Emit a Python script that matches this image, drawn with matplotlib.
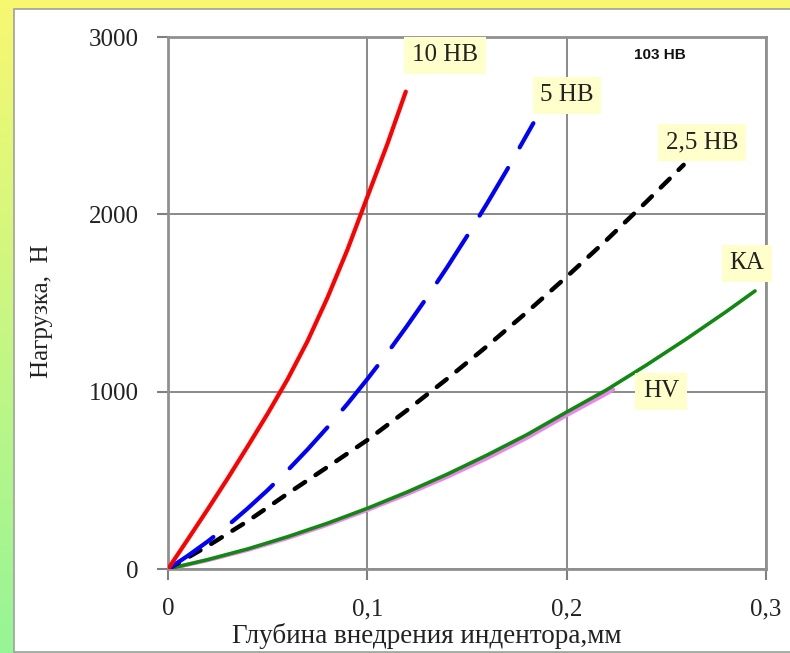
import numpy as np
import matplotlib
matplotlib.use("Agg")
import matplotlib.pyplot as plt
from matplotlib.patches import Rectangle

plt.rcParams['lines.scale_dashes'] = False

# ---- data ----
x_10hb = [0, 0.01, 0.02, 0.03, 0.04, 0.05, 0.06, 0.07, 0.08, 0.09, 0.1, 0.11, 0.1193]
y_10hb = [0, 168, 338, 512, 692, 876, 1070, 1285, 1530, 1800, 2098, 2395, 2692]

x_5hb = [0, 0.01, 0.02, 0.03, 0.04, 0.05, 0.06, 0.07, 0.08, 0.09, 0.1, 0.11, 0.12,
         0.13, 0.14, 0.15, 0.16, 0.17, 0.1833]
y_5hb = [0, 75, 156, 245, 342, 445, 556, 674, 799, 931, 1071, 1217, 1372,
         1533, 1701, 1877, 2060, 2250, 2514]

x_25hb = [0, 0.02, 0.04, 0.06, 0.08, 0.1, 0.12, 0.14, 0.16, 0.18, 0.2, 0.22, 0.24, 0.2587]
y_25hb = [0, 130, 270, 425, 575, 727, 896, 1072, 1256, 1448, 1648, 1855, 2071, 2279]

x_ka = [0, 0.02, 0.04, 0.06, 0.08, 0.1, 0.12, 0.14, 0.16, 0.18, 0.2, 0.22, 0.24, 0.26, 0.28, 0.2945]
y_ka = [0, 53, 113, 182, 258, 342, 434, 534, 642, 757, 885, 1010, 1150, 1297, 1451, 1568]

x_hv = [0, 0.02, 0.04, 0.06, 0.08, 0.1, 0.12, 0.14, 0.16, 0.18, 0.2, 0.22, 0.2233]
y_hv = [0, 50, 108, 175, 250, 333, 423, 520, 625, 740, 868, 990, 1012]

xticks = [0, 0.1, 0.2, 0.3]
xtick_labels = ["0", "0,1", "0,2", "0,3"]
yticks = [0, 1000, 2000, 3000]
ytick_labels = ["0", "1000", "2000", "3000"]

W, H = 790, 653
fig = plt.figure(figsize=(W / 100, H / 100), dpi=100)

# background gradient (yellow top -> green bottom)
bg = fig.add_axes([0, 0, 1, 1], zorder=-10)
grad = np.linspace(0, 1, 256)[:, None]
top = np.array([248, 248, 112]) / 255
bot = np.array([150, 245, 150]) / 255
img = top[None, None, :] * (1 - grad[:, :, None]) + bot[None, None, :] * grad[:, :, None]
bg.imshow(img, aspect='auto', extent=[0, 1, 0, 1])
bg.set_xlim(0, 1); bg.set_ylim(0, 1)
bg.axis('off')
# white panel with gray border
bg.add_patch(Rectangle((14 / W, 1 / H), 1.0, 1 - 10 / H, facecolor='white',
                       edgecolor='#a0a0a0', linewidth=1.2))

ax = fig.add_axes([168 / W, (H - 569) / H, (766 - 168) / W, (569 - 37) / H])
ax.set_facecolor('white')

serif = ['Liberation Serif', 'DejaVu Serif']

ax.plot(x_hv, y_hv, color='#ee82ee', lw=3.0, solid_capstyle='round', zorder=3)
ax.plot(x_ka, y_ka, color='#118811', lw=2.6, solid_capstyle='round', zorder=4)
ax.plot(x_25hb, y_25hb, color='black', lw=3.2, dash_capstyle='round',
        dashes=(9, 9), zorder=5)
ax.plot(x_5hb, y_5hb, color='#0000ff', lw=3.0, dash_capstyle='round',
        dashes=(40, 17), zorder=5)
ax.plot(x_10hb, y_10hb, color='#ff0000', lw=3.0, solid_capstyle='round',
        solid_joinstyle='round', zorder=6)

ax.set_xlim(0, 0.3)
ax.set_ylim(0, 3000)
ax.set_xticks(xticks)
ax.set_xticklabels(xtick_labels, fontfamily=serif, fontsize=18, color='#222222')
ax.set_yticks(yticks)
ax.set_yticklabels(ytick_labels, fontfamily=serif, fontsize=18, color='#222222')
ax.tick_params(axis='both', length=8, width=1.5, color='#808080', pad=13)
ax.grid(True, color='#808080', linewidth=1.3)
ax.set_axisbelow(True)
for s in ax.spines.values():
    s.set_color('#909090')
    s.set_linewidth(2)

fig.text(427 / W, 1 - 636 / H, "Глубина внедрения индентора,мм", fontfamily=serif,
         fontsize=19.5, color='#222222', ha='center', va='center')
fig.text(42 / W, 1 - 311 / H, "Нагрузка,  Н", fontfamily=serif, fontsize=18,
         color='#222222', ha='center', va='center', rotation=90)

box = dict(boxstyle='square,pad=0.3', facecolor='#ffffcc', edgecolor='none')
labels = [("10 НВ", 445, 55), ("5 НВ", 567, 95), ("2,5 НВ", 702, 142),
          ("КА", 747, 263), ("HV", 661, 391)]
for txt, px, py in labels:
    fig.text(px / W, 1 - py / H, txt, fontfamily=serif, fontsize=18, color='#222222',
             ha='center', va='center', bbox=box, zorder=10)

fig.text(660 / W, 1 - 55 / H, "103 НВ", fontfamily=['Liberation Sans', 'DejaVu Sans'],
         fontsize=11, fontweight='bold', color='#111111', ha='center', va='center')

fig.savefig("out.png", dpi=100)
